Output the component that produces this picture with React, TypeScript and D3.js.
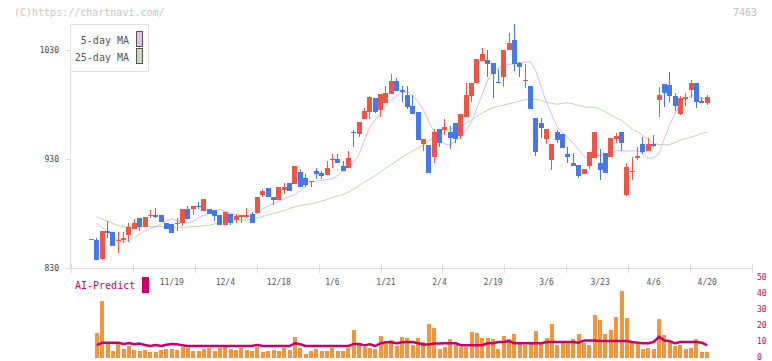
import React from 'react';
import * as d3 from 'd3';

const opens = [856.6,856.0,838.5,863.8,863.3,855.3,856.0,860.6,866.3,876.1,868.2,878.4,878.9,878.9,871.8,870.7,871.3,871.8,884.4,884.1,887.2,882.8,884.8,883.5,878.9,870.0,879.8,874.3,877.3,876.8,879.8,880.5,897.2,903.4,895.1,892.4,901.8,908.0,907.3,918.6,913.1,909.5,919.3,917.7,915.6,929.6,930.3,923.9,922.3,955.3,953.2,967.0,973.7,986.0,975.2,981.9,989.9,1001.8,993.6,989.0,978.9,973.7,944.0,943.1,932.4,957.8,956.9,955.3,963.6,951.8,969.1,988.1,999.7,1020.5,1021.1,1018.6,1001.2,1005.2,1030.3,1039.4,1018.1,1002.5,997.2,968.2,963.6,948.9,929.4,955.3,952.9,934.6,926.3,924.8,916.5,923.9,930.9,926.3,935.8,932.1,948.9,955.0,897.5,919.0,931.5,943.8,937.9,943.8,984.4,999.1,998.2,988.1,971.6,985.3,993.6,999.7,983.5,981.9];
const highs = [856.6,857.8,864.5,873.4,863.3,863.3,863.3,871.3,875.0,876.1,877.3,883.5,885.3,878.9,871.8,870.7,875.9,884.4,887.4,887.2,890.8,893.6,884.8,883.5,878.9,881.9,879.8,879.8,878.9,885.0,881.4,895.4,902.5,903.4,895.1,904.9,908.5,908.0,923.9,921.1,916.5,910.1,921.7,919.3,928.4,934.9,934.9,928.7,937.9,956.9,964.5,976.8,988.3,986.0,989.9,997.2,1008.3,1004.3,997.2,997.2,989.0,973.7,948.6,943.1,957.5,957.8,966.7,960.6,963.6,971.6,999.7,1000.3,1022.0,1031.8,1030.3,1018.6,1012.6,1030.3,1045.6,1054.1,1019.5,1017.2,997.2,968.2,967.6,958.1,943.8,956.9,952.9,941.6,935.5,924.8,921.1,937.0,955.3,939.4,935.8,949.5,953.7,955.0,926.6,932.1,941.3,950.7,949.3,952.3,996.6,999.1,1009.8,990.6,988.1,990.6,1002.8,999.7,986.9,989.0];
const lows = [856.6,837.6,837.6,857.8,850.5,844.0,853.5,854.4,866.3,864.5,868.2,876.1,876.1,872.6,866.0,862.7,864.5,868.8,875.0,878.9,884.1,882.8,879.5,873.7,870.0,870.0,870.0,871.3,871.8,875.9,871.8,880.5,895.7,895.1,888.1,892.4,898.2,901.2,907.3,904.5,904.9,904.9,911.7,911.7,915.6,922.3,926.3,919.3,922.3,941.3,950.7,967.0,966.7,972.2,969.1,981.9,989.9,992.9,982.3,975.9,971.6,947.7,937.9,917.7,926.9,941.6,952.3,939.2,944.7,948.6,969.1,982.8,999.7,1020.5,1005.2,986.5,999.7,996.6,1030.3,1011.3,1005.8,995.1,976.1,933.3,949.3,943.8,920.2,945.2,940.6,926.9,923.9,913.1,916.5,920.8,930.9,911.0,917.7,932.1,945.2,937.2,896.1,910.6,929.6,934.9,937.9,941.0,969.1,978.3,982.8,974.6,970.6,978.9,986.0,977.3,981.9,979.8];
const closes = [856.6,837.6,864.5,862.8,850.6,856.0,858.1,868.2,871.8,868.2,877.3,878.9,877.1,872.8,866.0,862.7,871.8,884.4,875.0,887.2,886.5,893.6,879.5,878.0,870.0,881.9,871.8,878.0,878.9,878.9,871.8,895.4,901.2,895.1,892.7,904.9,904.9,901.2,923.9,904.9,906.4,910.1,916.5,914.7,922.3,930.0,926.3,919.3,931.5,954.1,964.5,974.3,987.4,973.7,989.9,990.8,1001.8,992.9,991.5,978.3,971.6,947.7,948.6,917.7,955.3,945.2,959.9,949.8,948.6,971.6,989.0,1000.3,1022.0,1026.3,1017.4,1008.3,999.7,1030.3,1037.0,1017.2,1015.0,1002.8,976.1,937.0,959.0,958.1,943.8,947.7,940.6,932.4,923.9,914.7,921.1,937.0,955.3,920.2,917.7,949.5,951.4,945.2,923.2,919.3,933.0,937.0,943.8,942.2,989.0,991.1,988.3,978.9,986.0,986.9,999.7,982.8,981.9,986.9];
const volumes = [0,15.8,35.6,8.5,4.4,8.5,5.6,7.5,5.0,4.4,5.0,3.8,3.8,5.0,5.6,5.6,5.0,7.1,6.0,4.4,4.4,5.6,6.5,4.4,6.5,7.1,5.6,5.0,6.5,5.0,4.4,7.1,3.8,4.4,5.0,4.4,6.5,5.0,13.1,6.0,2.5,4.4,5.6,4.4,4.4,6.5,4.4,4.4,6.5,17.5,8.5,7.1,6.5,5.6,13.8,10.0,11.3,7.7,12.9,12.3,8.1,12.5,10.0,21.3,18.5,5.6,7.1,11.9,8.1,7.1,7.1,16.5,15.4,12.5,12.5,11.9,5.6,13.8,11.9,15.0,9.2,8.1,8.8,16.9,9.2,12.5,21.3,8.1,9.2,10.0,11.9,15.0,9.2,8.1,26.9,23.8,15.0,17.5,25.6,41.9,25.0,9.2,10.0,5.6,6.25,5.6,24.4,14.4,10.6,7.5,8.1,5.6,6.25,11.7,3.8,3.8];
const ma5 = [null,871.6,867.4,863.3,859.2,855.5,854.6,855.5,858.3,861.5,864.5,866.5,868.5,870.7,873.6,875.4,873.6,872.3,871.6,873.1,876.6,878.6,880.7,882.6,884.1,882.1,880.3,878.9,877.5,876.8,878.5,880.1,884.4,887.2,889.0,891.8,893.6,895.9,897.7,900.9,905.5,909.2,909.9,910.6,911.5,912.2,915.2,919.3,923.4,927.5,934.9,947.7,959.6,966.1,972.5,978.5,984.0,988.1,991.5,991.8,988.5,983.0,975.2,964.7,955.1,948.2,944.0,943.1,946.8,950.9,956.9,964.2,977.1,989.9,1002.8,1010.6,1014.2,1016.1,1017.0,1017.9,1018.5,1019.1,1019.3,1011.0,996.3,981.7,970.7,959.6,954.6,949.6,944.5,939.0,932.6,930.3,933.0,934.0,934.0,935.3,937.9,937.8,937.6,937.6,937.8,935.3,931.2,931.2,934.9,949.1,961.9,972.0,980.3,984.9,988.7,987.2,985.7,985.1];
const ma25 = [null,877.7,875.2,873.1,871.1,869.3,868.4,868.2,868.1,868.1,868.1,868.1,868.1,868.1,867.9,867.9,867.7,867.6,867.9,868.3,868.6,869.0,869.5,870.7,872.0,872.5,872.9,873.4,873.9,874.3,875.2,876.2,877.5,878.9,880.3,881.7,883.0,884.9,886.3,887.6,888.4,889.0,890.4,891.8,893.1,895.0,896.3,897.7,900.0,902.8,906.0,909.2,911.9,915.2,918.4,922.0,925.2,928.5,931.7,934.9,937.6,940.4,943.1,946.8,950.5,952.8,955.1,957.4,959.2,960.1,963.3,966.1,969.7,972.5,975.2,977.1,978.5,979.8,981.0,982.1,983.5,984.9,985.1,985.1,984.0,982.3,981.2,980.5,981.2,981.8,980.7,979.4,978.0,977.7,977.7,975.9,973.4,970.7,967.9,965.6,961.9,957.8,955.1,951.8,948.2,944.5,943.6,943.1,943.6,945.4,947.7,949.1,950.5,951.8,953.7,954.8];
const aiPredict = [null,8.1,9.6,9.6,9.6,9.6,8.8,9.4,8.6,9.0,8.1,7.5,8.1,7.5,8.3,8.8,8.6,7.9,7.5,7.5,7.5,7.5,7.5,7.5,7.5,7.5,7.5,7.5,7.5,7.5,7.6,8.1,7.5,7.5,7.5,7.5,7.5,7.5,9.2,8.6,7.5,7.5,7.5,7.5,7.5,7.5,7.5,7.5,7.5,8.8,8.8,7.9,8.6,7.5,9.2,9.8,9.8,9.2,9.8,10,10,9.2,8.4,8.4,9.0,9.0,9.2,9.2,9.2,8.0,8.0,8.0,8.0,8.0,9.2,9.2,10,10,10.6,9.2,9.2,9.2,9.2,9.2,9.2,10,10,10,10,10,10,9.6,10.9,10.9,10.9,10.6,10.6,10.6,10.6,10.6,10.6,10,9.6,9.2,9.2,10,13.3,10.9,10.6,9.2,10,10,10,10,9.6,7.9];
const dateLabels = ['11/19','12/4','12/18','1/6','1/21','2/4','2/19','3/6','3/23','4/6','4/20'];
const dateLabelIndex = [15,25,35,45,55,65,75,85,95,105,115];
const priceTicks = [830, 930, 1030];
const volTicks = [0, 10, 20, 30, 40, 50];

const MONO = '"DejaVu Sans Mono", monospace';
const RED = '#f05444';
const BLUE = '#4479ee';
const ORANGE = '#f2963e';
const MAGENTA = '#cc0066';
const AXIS = '#dddddd';

export default function App() {
  const n = closes.length;
  const x = d3.scaleLinear().domain([0, n - 1]).range([91.5, 707.2]);
  const y = d3.scaleLinear().domain([830, 1030]).range([268.3, 50.3]);
  const yv = d3.scaleLinear().domain([0, 50]).range([358, 278]);
  const axisX = d3.scaleLinear().domain([0, 11]).range([71, 752]);

  const maLine = d3.line<number | null>()
    .defined(d => d !== null)
    .x((_, i) => x(i))
    .y(d => y(d as number));
  const aiLine = d3.line<number | null>()
    .defined(d => d !== null)
    .x((_, i) => x(i))
    .y(d => yv(d as number));

  return (
    <svg width={772} height={361} style={{ position: 'absolute', left: 0, top: 0, background: '#fff' }}>
      <rect x={0} y={0} width={772} height={361} fill="#fff" />
      <text x={14} y={16} fontFamily={MONO} fontSize={10} fill="#c8c8c8">(C)https://chartnavi.com/</text>
      <text x={757} y={16} fontFamily={MONO} fontSize={10} fill="#c0c0c0" textAnchor="end">7463</text>

      {/* axes */}
      <line x1={70.5} x2={70.5} y1={24} y2={268.5} stroke={AXIS} strokeWidth={1} />
      <line x1={65} x2={752} y1={268.5} y2={268.5} stroke={AXIS} strokeWidth={1} />
      {d3.range(12).map(k => (
        <line key={'xt' + k} x1={Math.round(axisX(k)) + 0.5} x2={Math.round(axisX(k)) + 0.5} y1={264} y2={273} stroke={AXIS} strokeWidth={1} />
      ))}
      {priceTicks.map(p => (
        <g key={'yt' + p}>
          <line x1={65} x2={70} y1={Math.round(y(p)) + 0.5} y2={Math.round(y(p)) + 0.5} stroke={AXIS} />
          <text x={59} y={y(p) + 3} fontFamily={MONO} fontSize={8} fill="#444" textAnchor="end">{p}</text>
        </g>
      ))}
      {dateLabels.map((d, k) => (
        <text key={'dl' + k} x={x(dateLabelIndex[k])} y={285} fontFamily={MONO} fontSize={8} fill="#555" textAnchor="middle">{d}</text>
      ))}

      {/* moving averages */}
      <path d={maLine(ma25) || ''} fill="none" stroke="#b6dca6" strokeWidth={1} />
      <path d={maLine(ma5) || ''} fill="none" stroke="#e8b2ea" strokeWidth={1} />

      {/* candles */}
      <g shapeRendering="crispEdges">
        {closes.map((c, i) => {
          const o = opens[i];
          const up = c >= o;
          const col = up ? RED : BLUE;
          const cx = x(i);
          const top = y(Math.max(o, c));
          const bot = y(Math.min(o, c));
          return (
            <g key={'c' + i}>
              <line x1={cx} x2={cx} y1={y(highs[i])} y2={y(lows[i])} stroke={col} strokeWidth={1} />
              <rect x={cx - 2.5} y={top} width={5} height={Math.max(1, bot - top)} fill={col} />
            </g>
          );
        })}
      </g>

      {/* legend */}
      <rect x={70.5} y={24.5} width={78} height={47} fill="#fff" stroke="#e0e0e0" />
      <text x={129} y={44} fontFamily={MONO} fontSize={10} fill="#555" textAnchor="end">5-day MA</text>
      <text x={129} y={61} fontFamily={MONO} fontSize={10} fill="#555" textAnchor="end">25-day MA</text>
      <rect x={136.5} y={31.5} width={6} height={15} fill="#ecb8ee" stroke="#555" />
      <rect x={136.5} y={48.5} width={6} height={15} fill="#c0e2b0" stroke="#555" />

      {/* volume panel */}
      <text x={75} y={289} fontFamily={MONO} fontSize={10} fill={MAGENTA}>AI-Predict</text>
      <rect x={142} y={277} width={7} height={16} fill={MAGENTA} />
      <g shapeRendering="crispEdges">
        {volumes.map((v, i) => v > 0 ? (
          <rect key={'v' + i} x={x(i) - 2} y={yv(v)} width={4} height={yv(0) - yv(v)} fill={ORANGE} />
        ) : null)}
      </g>
      <path d={aiLine(aiPredict) || ''} fill="none" stroke={MAGENTA} strokeWidth={2.5} strokeLinejoin="round" />
      {volTicks.map(t => (
        <text key={'vt' + t} x={757} y={yv(t) + 2} fontFamily={MONO} fontSize={8} fill={MAGENTA}>{t}</text>
      ))}
    </svg>
  );
}
